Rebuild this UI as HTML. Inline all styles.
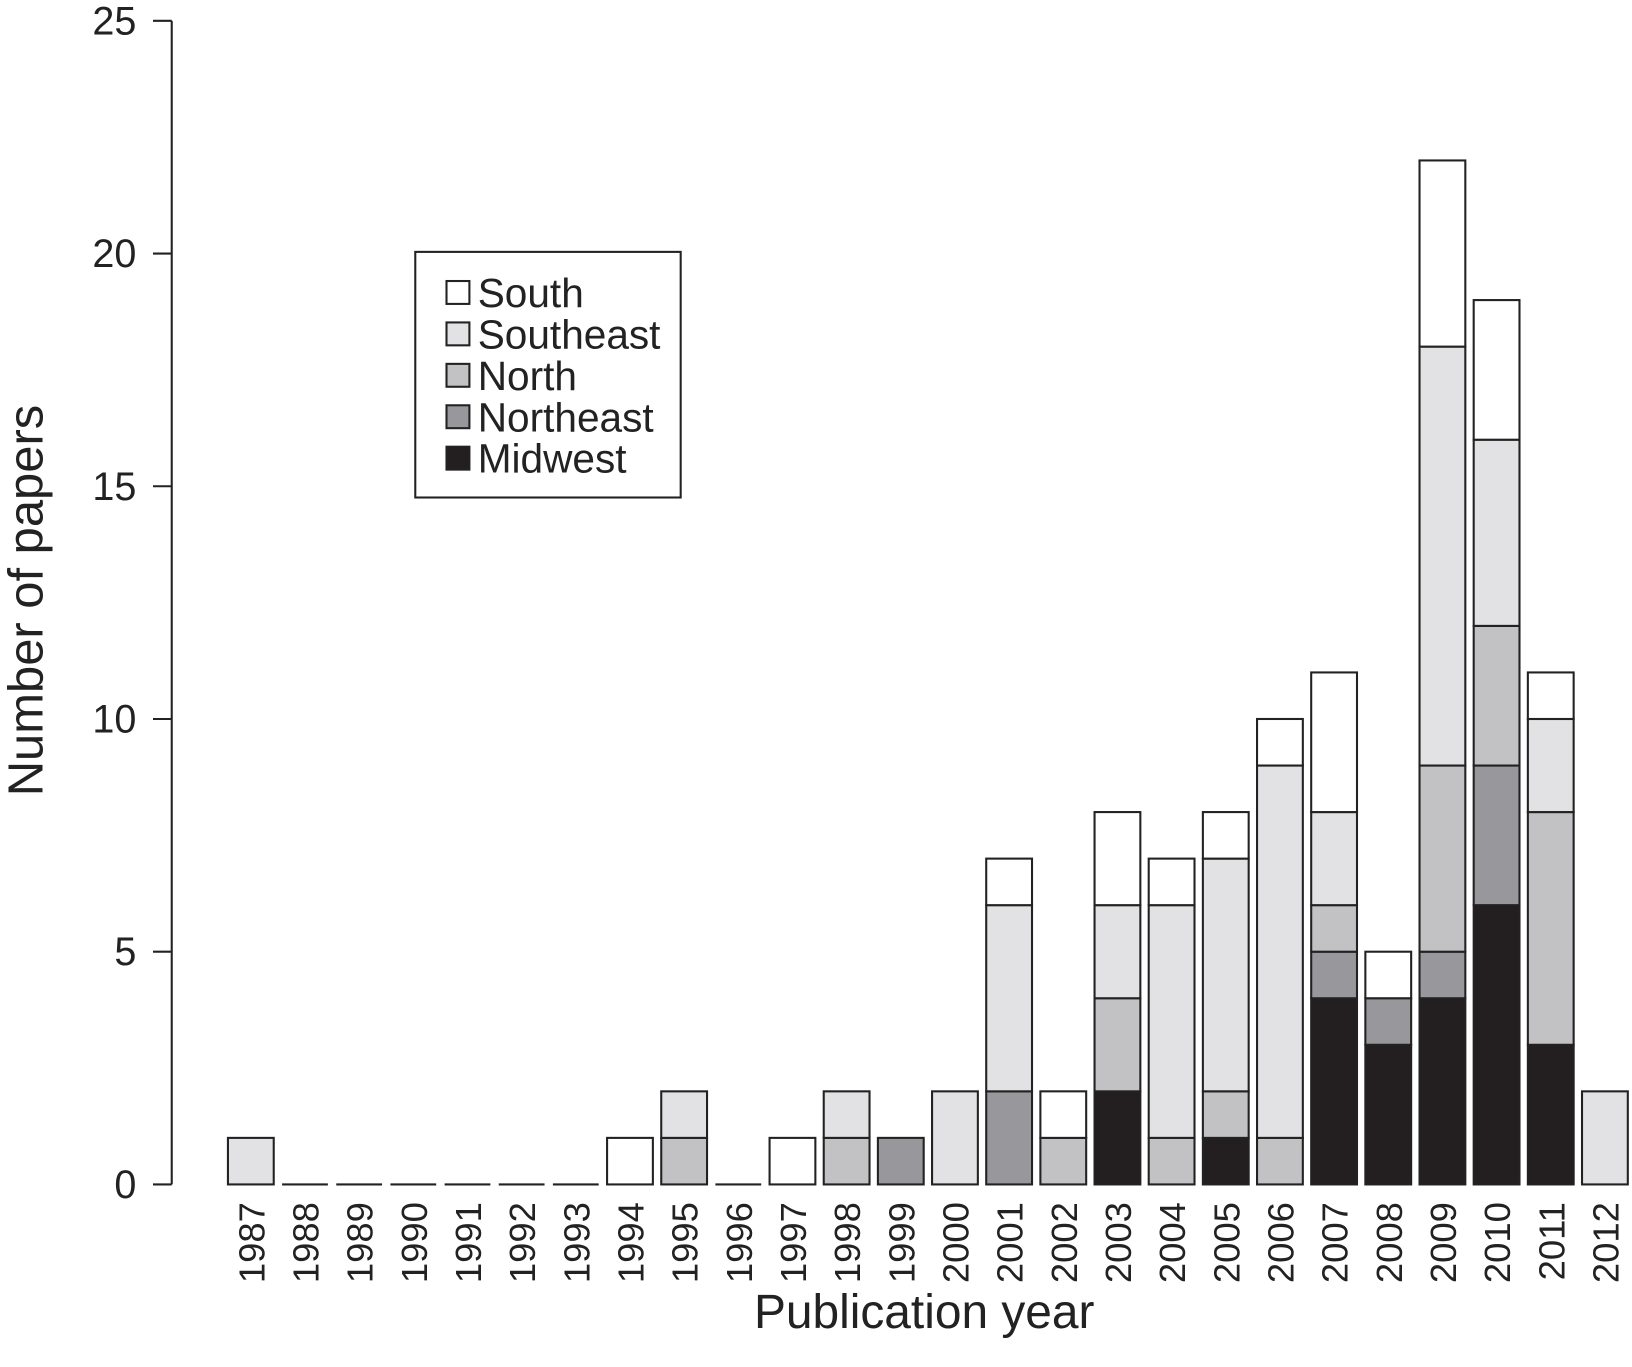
<!DOCTYPE html>
<html><head><meta charset="utf-8"><style>
body{margin:0;background:#fff;}
svg{display:block;font-family:"Liberation Sans",sans-serif;}
</style></head><body>
<svg id="chart" width="1632" height="1367" viewBox="0 0 1632 1367" xmlns="http://www.w3.org/2000/svg">
<g transform="scale(1.0408)"><g id="axes"></g><g id="bars"></g><g id="legend"></g></g>
</svg>
<script>
const years=[1987,1988,1989,1990,1991,1992,1993,1994,1995,1996,1997,1998,1999,2000,2001,2002,2003,2004,2005,2006,2007,2008,2009,2010,2011,2012];
const midwest  =[0,0,0,0,0,0,0,0,0,0,0,0,0,0,0,0,2,0,1,0,4,3,4,6,3,0];
const northeast=[0,0,0,0,0,0,0,0,0,0,0,0,1,0,2,0,0,0,0,0,1,1,1,3,0,0];
const north    =[0,0,0,0,0,0,0,0,1,0,0,1,0,0,0,1,2,1,1,1,1,0,4,3,5,0];
const southeast=[1,0,0,0,0,0,0,0,1,0,0,1,0,2,4,0,2,5,5,8,2,0,9,4,2,2];
const south    =[0,0,0,0,0,0,0,1,0,0,1,0,0,0,1,1,2,1,1,1,3,1,4,3,1,0];
const yTicks=[0,5,10,15,20,25];
const seriesNames=["Midwest","Northeast","North","Southeast","South"];
const seriesData=[midwest,northeast,north,southeast,south];
const colors=["#231f20","#98989c","#c2c2c4","#e2e2e4","#ffffff"];

const NS="http://www.w3.org/2000/svg";
const y0=1138,yTop=20,yMax=25;
const yS=v=>y0-v*(y0-yTop)/yMax;
const xS=i=>241+i*52.04;
const bw=44;
function mk(tag,attrs,parent,text){const e=document.createElementNS(NS,tag);for(const k in attrs)e.setAttribute(k,attrs[k]);if(text!==undefined)e.textContent=text;parent.appendChild(e);return e;}
const axes=document.getElementById('axes'),bars=document.getElementById('bars'),legend=document.getElementById('legend');

let a=mk('line',{x1:165,y1:yS(0),x2:165,y2:yS(25),stroke:'#222','stroke-width':2},axes);


yTicks.forEach(t=>{
  let l=mk('line',{x1:147,x2:165,y1:yS(t),y2:yS(t),stroke:'#222','stroke-width':2},axes);
  
  
  let tx=mk('text',{x:131,y:yS(t)+13,'text-anchor':'end','font-size':38,fill:'#222'},axes,t);
  
  
});
years.forEach((yr,i)=>{
  let tx=mk('text',{transform:`translate(${xS(i)+13},1155) rotate(-90)`,'text-anchor':'end','font-size':35,fill:'#222'},axes,yr);
  
  
  let cum=0;
  seriesData.forEach((s,k)=>{
    const v=s[i];
    if(v>0){
      let r=mk('rect',{x:xS(i)-bw/2,y:yS(cum+v),width:bw,height:yS(cum)-yS(cum+v),fill:colors[k],stroke:'#222','stroke-width':2},bars);
      
      
    }
    cum+=v;
  });
  if(cum===0){
    let l=mk('line',{x1:xS(i)-bw/2,x2:xS(i)+bw/2,y1:y0,y2:y0,stroke:'#222','stroke-width':2},bars);
    
    
  }
});
let xt=mk('text',{x:888,y:1276,'text-anchor':'middle','font-size':46,fill:'#222'},axes,'Publication year');


let yt=mk('text',{transform:'translate(41,577) rotate(-90)','text-anchor':'middle','font-size':47,fill:'#222'},axes,'Number of papers');



let lb=mk('rect',{x:399,y:242,width:255,height:236,fill:'#fff',stroke:'#222','stroke-width':2},legend);


[4,3,2,1,0].forEach((k,j)=>{
  const cy=281+j*39.8;
  let r=mk('rect',{x:429,y:cy-11,width:22,height:22,fill:colors[k],stroke:'#222','stroke-width':2},legend);
  
  
  let t=mk('text',{x:459,y:cy+14,'font-size':39,fill:'#222'},legend,seriesNames[k]);
  
  
});
</script>
</body></html>
